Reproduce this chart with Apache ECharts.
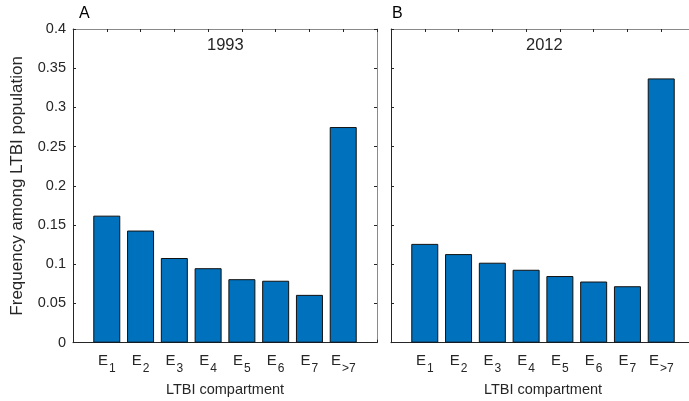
<!DOCTYPE html>
<html>
<head>
<meta charset="utf-8">
<script src="https://cdn.jsdelivr.net/npm/echarts@6/dist/echarts.min.js"></script>
<style>
html,body{margin:0;padding:0;background:#fff;}
#c{width:689px;height:401px;}
</style>
</head>
<body>
<div id="c"></div>
<script>
var categories = ['1','2','3','4','5','6','7','>7'];
var values1993 = [0.162, 0.143, 0.108, 0.095, 0.081, 0.079, 0.061, 0.275];
var values2012 = [0.126, 0.113, 0.102, 0.093, 0.085, 0.078, 0.072, 0.337];
var yTickLabels = ['0','0.05','0.1','0.15','0.2','0.25','0.3','0.35','0.4'];
var panelTitles = ['1993', '2012'];
var panelLetters = ['A', 'B'];

var FONT = 'Liberation Sans, Arial, Helvetica, sans-serif';
var TXT = '#262626';
var chart = echarts.init(document.getElementById('c'), null, {renderer: 'canvas'});

var grids = [
  {left: 73, top: 29, width: 304, height: 313.7, outerBoundsMode: 'none', containLabel: false},
  {left: 391, top: 29, width: 304, height: 313.7, outerBoundsMode: 'none', containLabel: false}
];

function toPoints(vals){ return vals.map(function(v,i){ return [i+1, v]; }); }

var xAxes = [], yAxes = [], series = [];
[0,1].forEach(function(g){
  xAxes.push({
    type: 'value', gridIndex: g, min: 0, max: 9, interval: 1, position: 'bottom',
    axisLine: {show: true, onZero: false, lineStyle: {color: TXT, width: 1}},
    axisTick: {show: true, inside: true, length: 3, lineStyle: {color: TXT}},
    splitLine: {show: false},
    axisLabel: {
      margin: 11,
      formatter: function(v){
        var i = Math.round(v) - 1;
        if (i < 0 || i >= categories.length) return '';
        return '{e|E}{s|' + categories[i] + '}';
      },
      rich: {
        e: {fontSize: 15, fontFamily: FONT, color: TXT, lineHeight: 21, verticalAlign: 'top'},
        s: {fontSize: 12, fontFamily: FONT, color: TXT, lineHeight: 21, verticalAlign: 'bottom', padding: [0,0,0,1]}
      }
    },
    name: 'LTBI compartment', nameLocation: 'middle', nameGap: 40,
    nameTextStyle: {fontSize: 14.5, fontFamily: FONT, color: TXT}
  });
  xAxes.push({
    type: 'value', gridIndex: g, min: 0, max: 9, interval: 1, position: 'top',
    axisLine: {show: true, onZero: false, lineStyle: {color: '#8a8a8a', width: 1}},
    axisTick: {show: true, inside: true, length: 3, lineStyle: {color: TXT}},
    splitLine: {show: false}, axisLabel: {show: false}
  });
  yAxes.push({
    type: 'value', gridIndex: g, min: 0, max: 0.4, interval: 0.05, position: 'left',
    axisLine: {show: true, onZero: false, lineStyle: {color: TXT, width: 1}},
    axisTick: {show: true, inside: true, length: 3, lineStyle: {color: TXT}},
    splitLine: {show: false},
    axisLabel: {
      show: g === 0, margin: 7, fontSize: 14.5, fontFamily: FONT, color: TXT,
      formatter: function(v){ return yTickLabels[Math.round(v/0.05)]; }
    },
    name: g === 0 ? 'Frequency among LTBI population' : '',
    nameLocation: 'middle', nameGap: 47,
    nameTextStyle: {fontSize: 17, fontFamily: FONT, color: TXT}
  });
  yAxes.push({
    type: 'value', gridIndex: g, min: 0, max: 0.4, interval: 0.05, position: 'right',
    axisLine: {show: g === 0, onZero: false, lineStyle: {color: '#8a8a8a', width: 1}},
    axisTick: {show: g === 0, inside: true, length: 3, lineStyle: {color: TXT}},
    splitLine: {show: false}, axisLabel: {show: false}
  });
  series.push({
    type: 'bar', xAxisIndex: g*2, yAxisIndex: g*2,
    data: toPoints(g === 0 ? values1993 : values2012),
    barWidth: 27,
    itemStyle: {color: '#0072BD', borderColor: '#111', borderWidth: 1},
    silent: true
  });
});

chart.setOption({
  animation: false,
  backgroundColor: '#fff',
  grid: grids,
  xAxis: xAxes,
  yAxis: yAxes,
  series: series,
  title: [
    {text: panelLetters[0], left: 79, top: 6, padding: 0, textStyle: {fontSize: 16, fontWeight: 'normal', fontFamily: FONT, color: '#000'}},
    {text: panelLetters[1], left: 392, top: 6, padding: 0, textStyle: {fontSize: 16, fontWeight: 'normal', fontFamily: FONT, color: '#000'}},
    {text: panelTitles[0], left: 207, top: 37, padding: 0, textStyle: {fontSize: 16.5, fontWeight: 'normal', fontFamily: FONT, color: TXT}},
    {text: panelTitles[1], left: 526, top: 37, padding: 0, textStyle: {fontSize: 16.5, fontWeight: 'normal', fontFamily: FONT, color: TXT}}
  ]
});
</script>
</body>
</html>
